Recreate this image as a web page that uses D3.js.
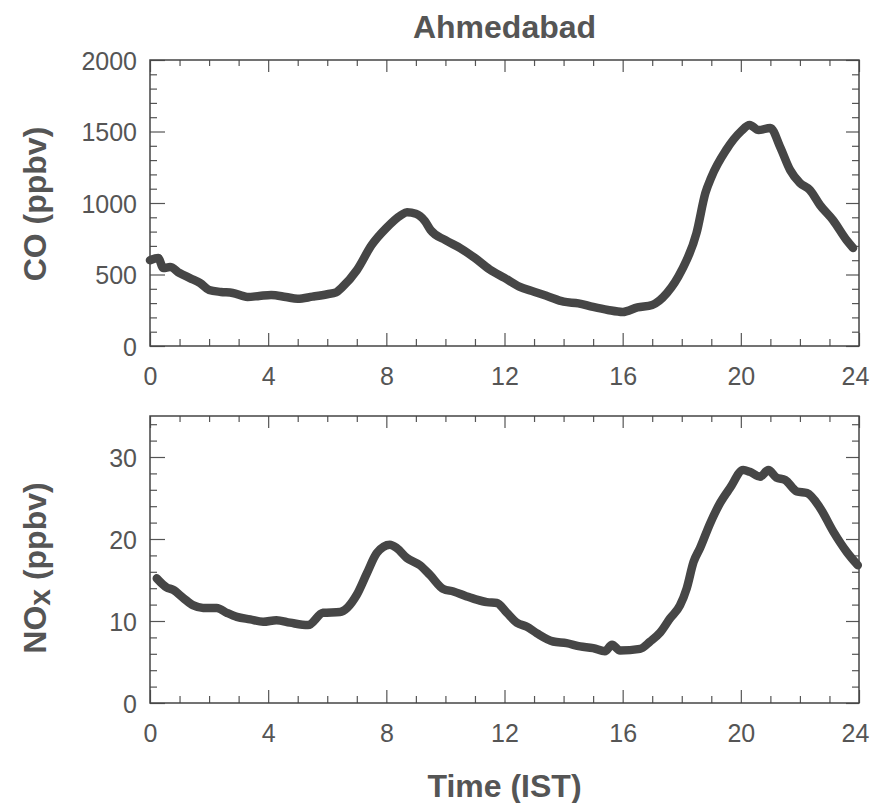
<!DOCTYPE html>
<html>
<head>
<meta charset="utf-8">
<script src="https://cdn.jsdelivr.net/npm/d3@7"></script>
<style>
  body { margin: 0; background: #fff; }
  svg { font-family: "Liberation Sans", Arial, Helvetica, sans-serif; }
  .tick text { fill: #555; font-size: 25px; }
  .tick line { stroke: #555; stroke-width: 1.2; }
  .domain { display: none; }
</style>
</head>
<body>
<div id="chart"></div>
<script>
// values (hours IST)
var coHours = [0, 0.28, 0.45, 0.68, 1.0, 1.35, 1.7, 2.0, 2.4, 2.8, 3.3, 3.7, 4.1, 4.6, 5.0, 5.5, 6.0, 6.3, 6.5, 7.0,
  7.5, 8.0, 8.5, 8.7, 9.0, 9.3, 9.5, 10.0, 10.5, 11.0, 11.5, 12.0, 12.5, 13.0, 13.5, 14.0, 14.5, 15.0, 15.5, 16.0,
  16.5, 17.0, 17.5, 18.0, 18.5, 18.8, 19.0, 19.5, 20.0, 20.3, 20.6, 21.0, 21.33, 21.67, 22.0, 22.34, 22.68, 23.12, 23.58, 23.8];
var coValues = [600, 615, 545, 552, 510, 475, 440, 392, 378, 371, 343, 350, 357, 343, 330, 345, 362, 375, 410, 530,
  705, 825, 915, 935, 925, 875, 810, 740, 685, 615, 535, 476, 415, 380, 345, 310, 298, 273, 252, 238,
  270, 287, 370, 530, 790, 1070, 1180, 1370, 1500, 1545, 1510, 1525, 1392, 1230, 1140, 1090, 985, 880, 740, 685];

var noxHours = [0.23, 0.56, 0.78, 1.13, 1.47, 1.8, 2.26, 2.6, 2.94, 3.39, 3.83, 4.28, 4.74, 5.35, 5.86, 6.43, 7.0,
  7.34, 7.68, 8.12, 8.35, 8.69, 9.14, 9.48, 9.93, 10.27, 10.72, 11.06, 11.4, 11.74, 12.08, 12.42, 12.76, 13.1,
  13.65, 14.1, 14.56, 15.0, 15.4, 15.64, 15.91, 16.59, 16.93, 17.27, 17.6, 17.94, 18.17, 18.4, 18.62, 18.96,
  19.3, 19.63, 20.08, 20.3, 20.65, 20.93, 21.2, 21.5, 21.9, 22.24, 22.68, 23.13, 23.59, 23.96];
var noxValues = [15.2, 14.1, 13.8, 12.8, 11.9, 11.6, 11.6, 11.0, 10.5, 10.2, 9.9, 10.1, 9.8, 9.5, 11.0, 11.1, 13.2,
  15.8, 18.3, 19.3, 18.9, 17.7, 16.8, 15.6, 13.9, 13.6, 13.0, 12.6, 12.3, 12.2, 11.0, 9.8, 9.3, 8.5,
  7.5, 7.3, 6.9, 6.7, 6.3, 7.1, 6.4, 6.6, 7.5, 8.6, 10.3, 11.9, 14.0, 17.2, 18.9, 21.9,
  24.4, 26.2, 28.4, 28.2, 27.6, 28.4, 27.5, 27.2, 25.8, 25.6, 23.8, 20.9, 18.4, 16.8];

var hourTicks = [0, 4, 8, 12, 16, 20, 24];
var coTicks = [0, 500, 1000, 1500, 2000];
var noxTicks = [0, 10, 20, 30];

var width = 872, height = 803;
var left = 150, right = 859;

var svg = d3.select("#chart").append("svg")
    .attr("width", width)
    .attr("height", height);

var x = d3.scaleLinear().domain([0, 24]).range([0, right - left]);

function panel(top, bottom, yMax, yTicks, minorStep, hours, values) {
  var h = bottom - top;
  var y = d3.scaleLinear().domain([0, yMax]).range([h, 0]);
  var g = svg.append("g").attr("transform", "translate(" + left + "," + top + ")");

  // minor ticks, all four sides, pointing in
  var minorX = d3.range(0, 25, 1).filter(function(d) { return d % 4 != 0; });
  var minorY = d3.range(0, yMax + 0.001, minorStep).filter(function(d) { return yTicks.indexOf(d) < 0; });

  g.append("g").attr("transform", "translate(0," + h + ")")
      .call(d3.axisBottom(x).tickValues(minorX).tickSize(-7).tickFormat(""));
  g.append("g")
      .call(d3.axisTop(x).tickValues(minorX).tickSize(-6).tickFormat(""));
  g.append("g")
      .call(d3.axisLeft(y).tickValues(minorY).tickSize(-7).tickFormat(""));
  g.append("g").attr("transform", "translate(" + x(24) + ",0)")
      .call(d3.axisRight(y).tickValues(minorY).tickSize(-7).tickFormat(""));

  // major ticks with labels
  var xAxis = g.append("g").attr("transform", "translate(0," + h + ")")
      .call(d3.axisBottom(x).tickValues(hourTicks).tickSize(-13).tickPadding(21).tickFormat(d3.format("d")));
  g.append("g")
      .call(d3.axisTop(x).tickValues(hourTicks).tickSize(-12).tickFormat(""));
  g.append("g")
      .call(d3.axisLeft(y).tickValues(yTicks).tickSize(-15).tickPadding(13).tickFormat(d3.format("d")));
  g.append("g").attr("transform", "translate(" + x(24) + ",0)")
      .call(d3.axisRight(y).tickValues(yTicks).tickSize(-13).tickFormat(""));

  g.selectAll(".tick text").attr("dy", function() {
    return d3.select(this.parentNode.parentNode).attr("text-anchor") == "end" ? "0.36em" : "0.71em";
  });
  // last hour label sits against the page edge
  xAxis.selectAll(".tick text").filter(function(d) { return d == 24; }).attr("x", -4);

  g.append("rect")
      .attr("width", x(24))
      .attr("height", h)
      .attr("fill", "none")
      .attr("stroke", "#444")
      .attr("stroke-width", 1.5);

  var line = d3.line()
      .x(function(d) { return x(d[0]); })
      .y(function(d) { return y(d[1]); })
      .curve(d3.curveMonotoneX);

  g.append("path")
      .datum(d3.zip(hours, values))
      .attr("d", line)
      .attr("fill", "none")
      .attr("stroke", "#464646")
      .attr("stroke-width", 8.5)
      .attr("stroke-linejoin", "round")
      .attr("stroke-linecap", "round");

  return g;
}

panel(60, 346, 2000, coTicks, 100, coHours, coValues);
panel(416, 703, 35, noxTicks, 2, noxHours, noxValues);

// titles
svg.append("text")
    .attr("x", left + x(12))
    .attr("y", 38)
    .attr("text-anchor", "middle")
    .attr("fill", "#555")
    .attr("font-size", 32)
    .attr("font-weight", "bold")
    .text("Ahmedabad");

svg.append("text")
    .attr("x", left + x(12))
    .attr("y", 797)
    .attr("text-anchor", "middle")
    .attr("fill", "#555")
    .attr("font-size", 32)
    .attr("font-weight", "bold")
    .text("Time (IST)");

svg.append("text")
    .attr("transform", "translate(46,204) rotate(-90)")
    .attr("text-anchor", "middle")
    .attr("fill", "#555")
    .attr("font-size", 32)
    .attr("font-weight", "bold")
    .text("CO (ppbv)");

var noxLabel = svg.append("text")
    .attr("transform", "translate(46,568) rotate(-90)")
    .attr("text-anchor", "middle")
    .attr("fill", "#555")
    .attr("font-size", 32)
    .attr("font-weight", "bold");
noxLabel.append("tspan").text("NO");
noxLabel.append("tspan").attr("dy", 4).attr("font-size", 30).text("x");
noxLabel.append("tspan").attr("dy", -4).text(" (ppbv)");
</script>
</body>
</html>
